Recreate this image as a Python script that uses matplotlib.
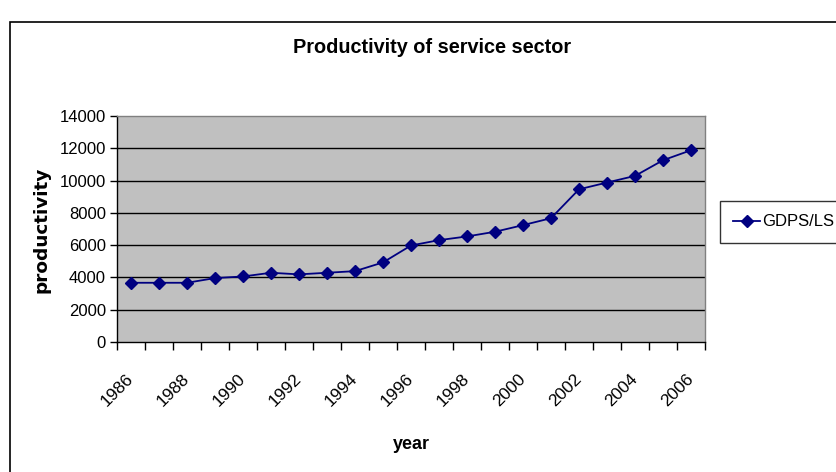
import matplotlib
matplotlib.use("Agg")
import matplotlib.pyplot as plt
import matplotlib.patches as mpatches
import matplotlib.transforms as mtransforms
import numpy as np

# Productivity of the service sector (GDPS/LS), 1986-2006
years = [str(y) for y in range(1986, 2007)]
gdps_ls = [3670, 3670, 3670, 3960, 4060, 4290, 4190, 4290, 4390, 4930, 5980,
           6310, 6540, 6830, 7240, 7670, 9460, 9880, 10290, 11260, 11880]
y_ticks = [0, 2000, 4000, 6000, 8000, 10000, 12000, 14000]

FONT = ["Liberation Sans", "DejaVu Sans"]
NAVY = "#000080"

fig = plt.figure(figsize=(8.37, 4.72), dpi=100)
ax = fig.add_axes([0.1398, 0.2754, 0.8423 - 0.1398, 0.7542 - 0.2754])

x = np.arange(len(years))
ax.plot(x, gdps_ls, color=NAVY, linewidth=1.3, marker="D", markersize=5.8,
        markerfacecolor=NAVY, markeredgecolor=NAVY, label="GDPS/LS", zorder=3)

ax.set_facecolor("#C0C0C0")
ax.set_xlim(-0.5, len(years) - 0.5)
ax.set_ylim(0, 14000)

# category axis: tick marks on boundaries, labels every other year at centres
ax.set_xticks(np.arange(len(years) + 1) - 0.5)
ax.set_xticklabels([])
ax.set_xticks(x[::2], minor=True)
ax.set_xticklabels(years[::2], minor=True, rotation=45, ha="right",
                   rotation_mode="anchor", fontsize=12.5, family=FONT)
ax.tick_params(axis="x", which="major", direction="out", length=6, width=1, color="black")
ax.tick_params(axis="x", which="minor", length=0, pad=21)
shift = mtransforms.ScaledTranslation(-5 / 100, 0, fig.dpi_scale_trans)
for lbl in ax.get_xticklabels(minor=True):
    lbl.set_transform(lbl.get_transform() + shift)

ax.set_yticks(y_ticks)
ax.set_yticklabels([str(v) for v in y_ticks], fontsize=12, family=FONT)
ax.tick_params(axis="y", direction="out", length=5, width=1, pad=3)

for v in y_ticks[1:-1]:
    ax.axhline(v, color="black", linewidth=1, zorder=1)

ax.spines["left"].set_color("black")
ax.spines["bottom"].set_color("black")
ax.spines["top"].set_color("#808080")
ax.spines["right"].set_color("#808080")
for s in ax.spines.values():
    s.set_linewidth(1)

fig.text(0.516, 0.90, "Productivity of service sector", ha="center", va="center",
         fontsize=14.3, fontweight="bold", family=FONT)
ax.set_xlabel("year", fontsize=13, fontweight="bold", family=FONT, labelpad=19)
fig.text(0.050, 0.513, "productivity", rotation=90, ha="center", va="center",
         fontsize=13.3, fontweight="bold", family=["DejaVu Sans"])

leg = fig.legend(loc="center left", bbox_to_anchor=(720 / 837, 0.530), frameon=True,
                 fancybox=False, edgecolor="black", borderaxespad=0,
                 prop={"family": FONT, "size": 12}, handlelength=1.6,
                 borderpad=0.8, handletextpad=0.15)
leg.get_frame().set_linewidth(1)

# outer chart frame
frame = mpatches.Rectangle((10 / 837, -0.1), 1.2, 0.1 + (1 - 22 / 472),
                           transform=fig.transFigure, fill=False,
                           edgecolor="black", linewidth=1.2)
fig.patches.append(frame)

fig.savefig("out.png", dpi=100)
